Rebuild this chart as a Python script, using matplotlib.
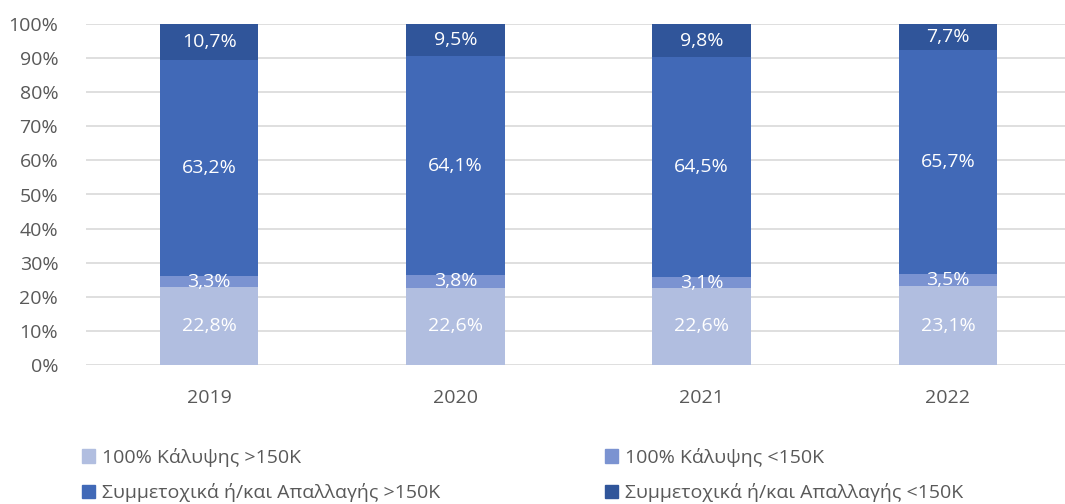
import matplotlib.pyplot as plt
import matplotlib.patches as mpatches
import numpy as np

years = ['2019', '2020', '2021', '2022']
series_names = ['100% Κάλυψης >150K', '100% Κάλυψης <150K',
                'Συμμετοχικά ή/και Απαλλαγής >150K', 'Συμμετοχικά ή/και Απαλλαγής <150K']
full_gt150 = [22.8, 22.6, 22.6, 23.1]
full_lt150 = [3.3, 3.8, 3.1, 3.5]
part_gt150 = [63.2, 64.1, 64.5, 65.7]
part_lt150 = [10.7, 9.5, 9.8, 7.7]
colors = ['#B1BEE0', '#7B93D1', '#4169B7', '#30559A']

plt.rcParams['font.family'] = ['Open Sans', 'DejaVu Sans']

fig = plt.figure(figsize=(10.65, 5.04), dpi=100)
ax = fig.add_axes([86 / 1065, 139 / 504, 985 / 1065, 341 / 504])

x = np.arange(len(years))
bottom = np.zeros(len(years))
for vals, col in zip([full_gt150, full_lt150, part_gt150, part_lt150], colors):
    vals = np.array(vals)
    ax.bar(x, vals, 0.4, bottom=bottom, color=col, zorder=3)
    for xi, b, v in zip(x, bottom, vals):
        ax.text(xi, b + v / 2, f'{v:.1f}%'.replace('.', ','), ha='center', va='center',
                color='white', fontsize=14, zorder=4)
    bottom += vals

ax.set_xlim(-0.5, 3.5)
ax.set_ylim(0, 100)
ax.set_yticks(np.arange(0, 101, 10))
ax.set_yticklabels([f'{v}%' for v in range(0, 101, 10)])
ax.set_xticks(x)
ax.set_xticklabels(years)
ax.tick_params(length=0, labelsize=14, labelcolor='#595959')
ax.tick_params(axis='y', pad=20)
ax.tick_params(axis='x', pad=17)
ax.grid(axis='y', color='#D9D9D9', linewidth=1.2, zorder=0)
for s in ax.spines.values():
    s.set_visible(False)

handles = [mpatches.Patch(color=c) for c in colors]
for i, xpos in enumerate([72 / 1065, 595 / 1065]):
    fig.legend([handles[i], handles[i + 2]], [series_names[i], series_names[i + 2]],
               loc='upper left', bbox_to_anchor=(xpos, 66 / 504), frameon=False,
               fontsize=14, handlelength=0.7, handleheight=0.7, handletextpad=0.35,
               labelspacing=0.85, labelcolor='#595959', borderpad=0)

fig.savefig('out.png', dpi=100)
